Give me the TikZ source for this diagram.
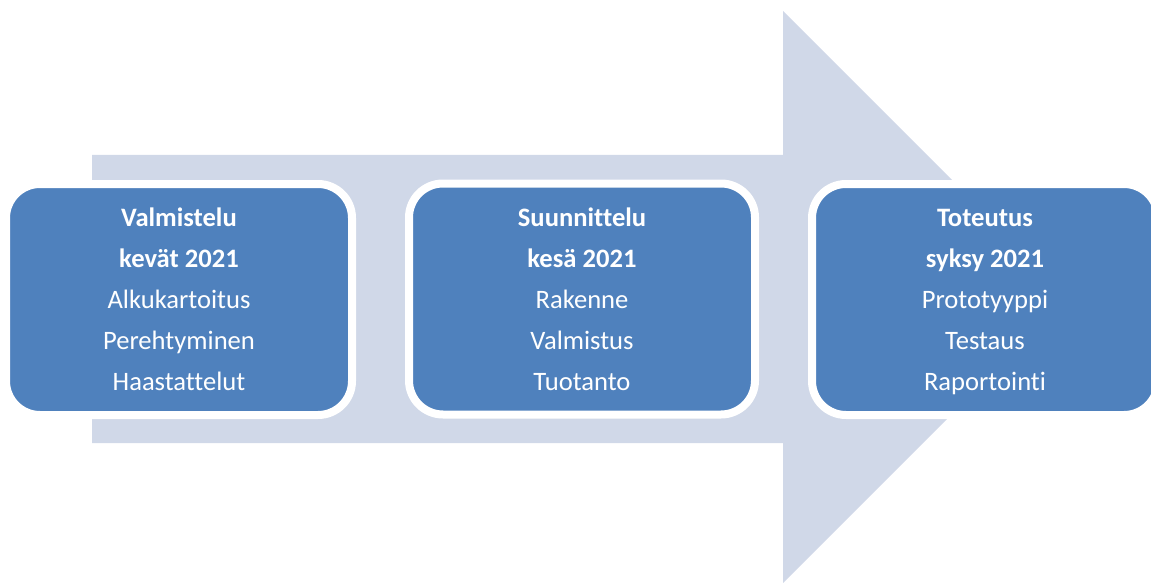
\documentclass[tikz,border=0pt]{standalone}
\usepackage{fontspec}
\setmainfont[Ligatures=NoCommon]{Carlito}
\definecolor{arrowfill}{RGB}{208,216,232}
\definecolor{boxblue}{RGB}{79,129,189}
\tikzset{
  phase/.style={draw=white, line width=8pt, fill=boxblue, rounded corners=34pt,
    minimum width=346pt, minimum height=231pt, inner sep=0pt,
    text=white, align=center, font=\fontsize{26.6}{41}\selectfont},
  bigarrow/.style={fill=arrowfill, draw=none}
}
\begin{document}
\begin{tikzpicture}[x=1pt,y=-1pt]
\useasboundingbox (0,0) rectangle (1151,583);
\fill[bigarrow] (92,155) -- (783,155) -- (783,11) -- (1069,297) -- (783,583) -- (783,443) -- (92,443) -- cycle;
\node[phase] (p1) at (179,299.5) {\textbf{Valmistelu}\\\textbf{kevät 2021}\\Alkukartoitus\\Perehtyminen\\Haastattelut};
\node[phase] (p2) at (582,299) {\textbf{Suunnittelu}\\\textbf{kesä 2021}\\Rakenne\\Valmistus\\Tuotanto};
\node[phase] (p3) at (985,299.5) {\textbf{Toteutus}\\\textbf{syksy 2021}\\Prototyyppi\\Testaus\\\smash{Raportointi}};
\end{tikzpicture}
\end{document}
